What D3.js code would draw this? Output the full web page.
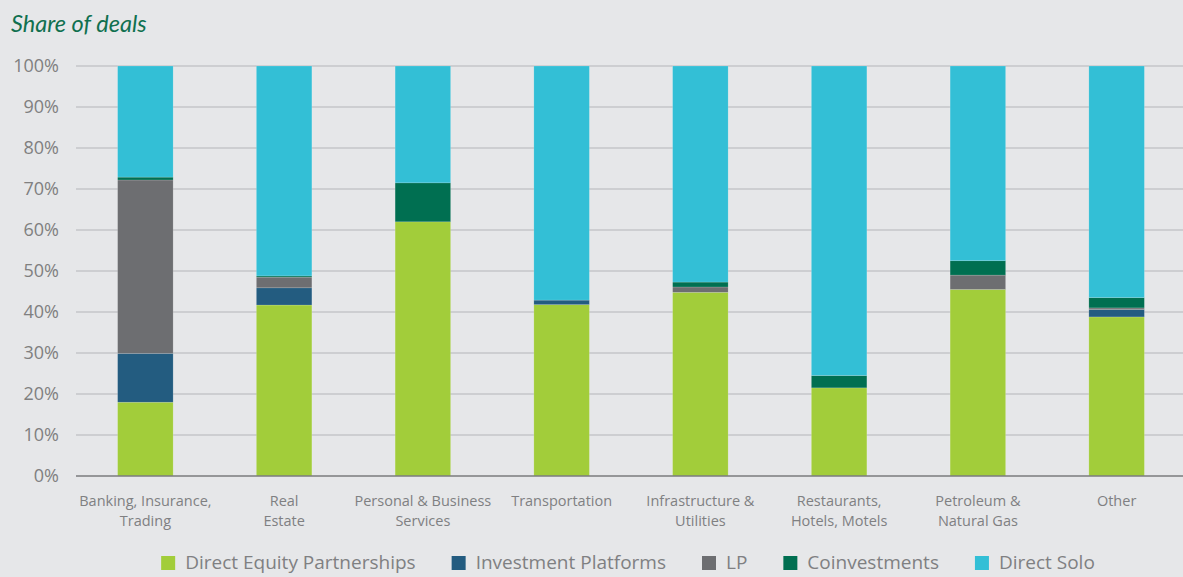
<!DOCTYPE html>
<html>
<head>
<meta charset="utf-8">
<script src="https://cdn.jsdelivr.net/npm/d3@7"></script>
<style>
  html, body { margin: 0; padding: 0; background: #e6e7e9; }
  svg { display: block; }
  text { font-family: "Open Sans", "Noto Sans", sans-serif; }
</style>
</head>
<body>
<script>
const categories = [
  ["Banking, Insurance,", "Trading"],
  ["Real", "Estate"],
  ["Personal & Business", "Services"],
  ["Transportation"],
  ["Infrastructure &", "Utilities"],
  ["Restaurants,", "Hotels, Motels"],
  ["Petroleum &", "Natural Gas"],
  ["Other"]
];
const seriesNames = ["Direct Equity Partnerships", "Investment Platforms", "LP", "Coinvestments", "Direct Solo"];
const directEquity = [18.0, 41.7, 62.0, 41.8, 44.8, 21.5, 45.5, 38.8];
const investmentPlatforms = [11.9, 4.2, 0.0, 1.1, 0.0, 0.0, 0.0, 1.8];
const lp = [42.3, 2.6, 0.0, 0.0, 1.3, 0.0, 3.5, 0.4];
const coinvestments = [0.7, 0.3, 9.5, 0.0, 1.2, 3.0, 3.5, 2.5];
const directSolo = [27.1, 51.2, 28.5, 57.1, 52.7, 75.5, 47.5, 56.5];
const yTicks = [0, 10, 20, 30, 40, 50, 60, 70, 80, 90, 100];
const colors = ["#a2cd3a", "#235c80", "#6d6e71", "#006f51", "#33bfd6"];

const W = 1183, H = 577;
const svg = d3.select("body").append("svg").attr("width", W).attr("height", H);

const keys = ["de", "ip", "lp", "co", "ds"];
const rows = categories.map((c, i) => ({
  cat: i, de: directEquity[i], ip: investmentPlatforms[i], lp: lp[i], co: coinvestments[i], ds: directSolo[i]
}));
const stacked = d3.stack().keys(keys)(rows);

const x = d3.scaleBand().domain(d3.range(categories.length)).range([76, 1186]).paddingInner(0.6).paddingOuter(0.3);
const y = d3.scaleLinear().domain([0, 100]).range([476, 66]);

// title
svg.append("text").attr("x", 11).attr("y", 32)
  .attr("font-size", 23.5).attr("font-style", "italic").attr("fill", "#10704f")
  .style("font-family", "Lato, 'Open Sans', sans-serif")
  .text("Share of deals");

// gridlines
svg.append("g").selectAll("line").data(yTicks.filter(t => t > 0)).join("line")
  .attr("x1", 76).attr("x2", W).attr("y1", d => y(d)).attr("y2", d => y(d))
  .attr("stroke", "#c5c6c8").attr("stroke-width", 1.3);

// y labels
svg.append("g").selectAll("text").data(yTicks).join("text")
  .attr("x", 59).attr("y", d => y(d)).attr("dy", "0.36em")
  .attr("text-anchor", "end").attr("font-size", 18).attr("fill", "#808080")
  .text(d => d + "%");

// bars
svg.append("g").selectAll("g").data(stacked).join("g")
  .attr("fill", (d, i) => colors[i])
  .selectAll("rect").data(d => d).join("rect")
  .attr("x", d => x(d.data.cat))
  .attr("width", x.bandwidth())
  .attr("y", d => y(d[1]))
  .attr("height", d => Math.max(0, y(d[0]) - y(d[1])))
  .attr("stroke", "rgba(255,255,255,0.25)").attr("stroke-width", 0.6);

// baseline
svg.append("line").attr("x1", 76).attr("x2", W).attr("y1", y(0)).attr("y2", y(0))
  .attr("stroke", "#7a7b7d").attr("stroke-width", 1.5);

// category labels
const cl = svg.append("g").selectAll("text").data(categories).join("text")
  .attr("text-anchor", "middle").attr("font-size", 14.5).attr("fill", "#7f8082")
  .attr("transform", (d, i) => `translate(${x(i) + x.bandwidth() / 2},506)`);
cl.selectAll("tspan").data(d => d).join("tspan")
  .attr("x", 0).attr("y", (d, i) => i * 20).text(d => d);

// legend
const lg = svg.append("g");
const items = lg.selectAll("g").data(seriesNames).join("g");
items.append("rect").attr("width", 14).attr("height", 14).attr("y", -7).attr("fill", (d, i) => colors[i]);
items.append("text").attr("x", 24).attr("dy", "0.34em").attr("font-size", 19).attr("fill", "#7f8082").text(d => d);
let cx = 0;
const offs = [];
items.each(function (d, i) {
  offs.push(cx);
  const w = d3.select(this).select("text").node().getComputedTextLength();
  cx += 24 + w + 36;
});
const totalW = cx - 36;
const startX = 628 - totalW / 2;
items.attr("transform", (d, i) => `translate(${startX + offs[i]},563)`);
</script>
</body>
</html>
